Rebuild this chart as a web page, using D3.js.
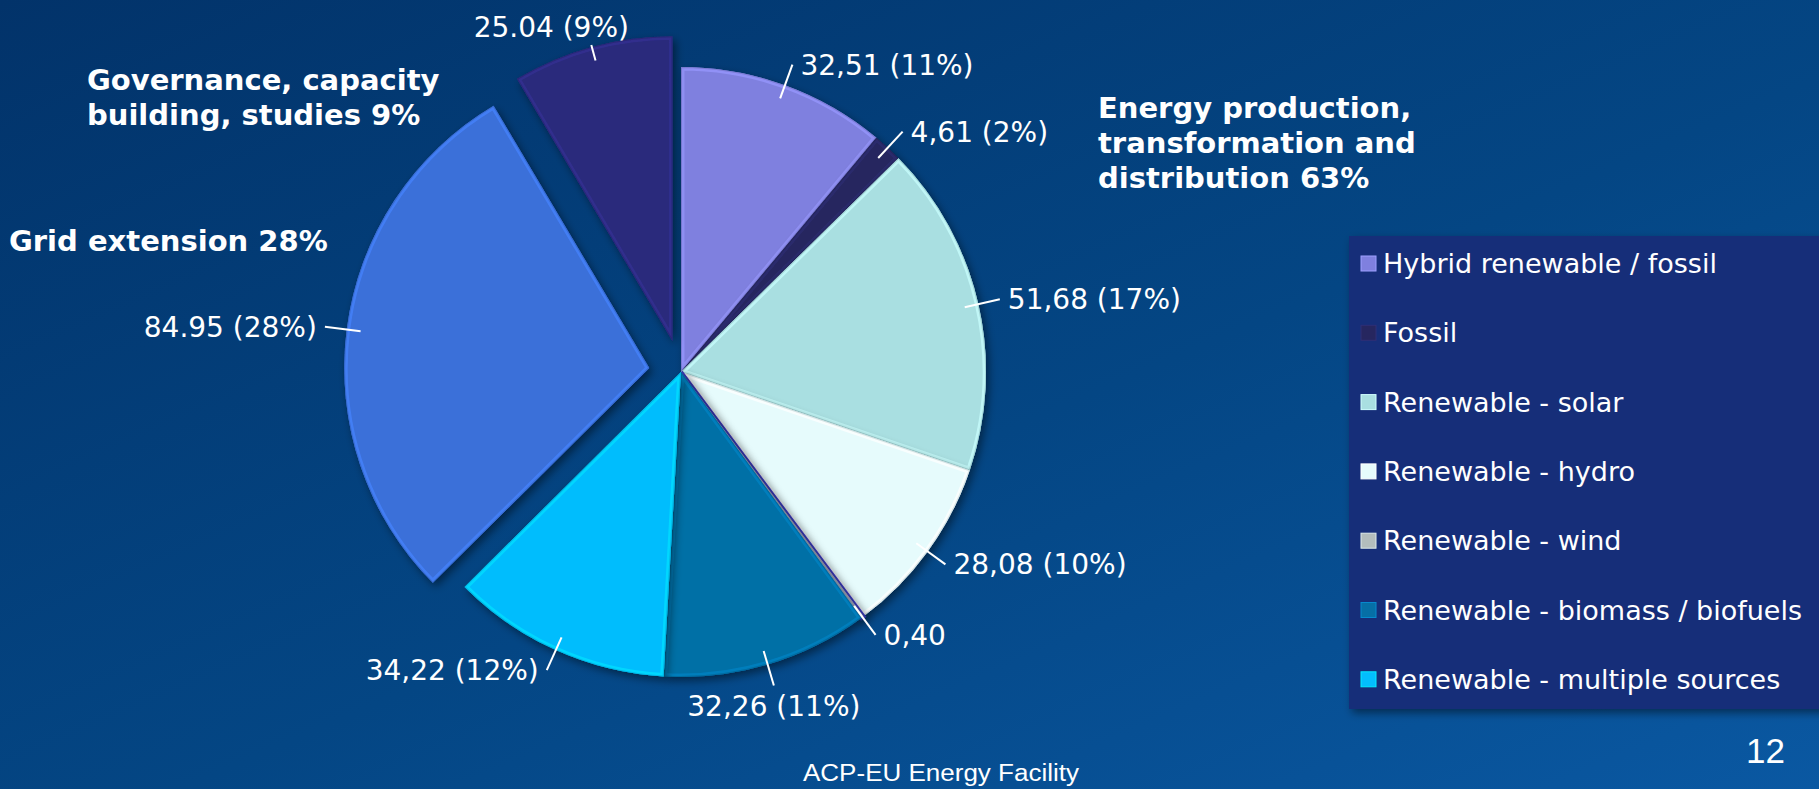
<!DOCTYPE html>
<html>
<head>
<meta charset="utf-8">
<script src="https://cdn.jsdelivr.net/npm/d3@7"></script>
<style>
  body { margin: 0; overflow: hidden; background: #03417c; }
</style>
</head>
<body>
<svg id="chart"></svg>
<script>
var categories = [
  "Hybrid renewable / fossil",
  "Fossil",
  "Renewable - solar",
  "Renewable - hydro",
  "Renewable - wind",
  "Renewable - biomass / biofuels",
  "Renewable - multiple sources",
  "Grid extension",
  "Governance, capacity building, studies"
];
var values = [32.51, 4.61, 51.68, 28.08, 0.40, 32.26, 34.22, 84.95, 25.04];
var valueLabels = ["32,51 (11%)", "4,61 (2%)", "51,68 (17%)", "28,08 (10%)", "0,40",
  "32,26 (11%)", "34,22 (12%)", "84.95 (28%)", "25.04 (9%)"];
var colors = ["#7f80df", "#26265f", "#a9dfe1", "#e6fbfc", "#b3bdbd",
  "#066fa6", "#03bdfd", "#3b6fd9", "#2b2a7c"];
var exploded = [false, false, false, false, false, false, false, true, true];
var legendCount = 7; // only the energy sub-types are in the legend

var energyTitle = ["Energy production,", "transformation and", "distribution 63%"];
var governanceTitle = ["Governance, capacity", "building, studies 9%"];
var gridTitle = ["Grid extension 28%"];

var W = 1819, H = 789;
var cx = 681, cy = 372, R = 305, pull = 32;

var svg = d3.select("#chart").attr("width", W).attr("height", H);
var defs = svg.append("defs");

var bg = defs.append("linearGradient").attr("id", "bg")
  .attr("x1", "0").attr("y1", "0").attr("x2", "1").attr("y2", "1");
bg.append("stop").attr("offset", "0%").attr("stop-color", "#02336a");
bg.append("stop").attr("offset", "55%").attr("stop-color", "#044684");
bg.append("stop").attr("offset", "100%").attr("stop-color", "#0a58a2");

var shadow = defs.append("filter").attr("id", "shadow")
  .attr("x", "-20%").attr("y", "-20%").attr("width", "140%").attr("height", "140%");
shadow.append("feDropShadow").attr("dx", 3).attr("dy", 4).attr("stdDeviation", 4)
  .attr("flood-color", "#000").attr("flood-opacity", 0.45);

svg.append("rect").attr("width", W).attr("height", H).attr("fill", "url(#bg)");

// pie
var pie = d3.pie().sort(null).value(d => d);
var arcs = pie(values);
var arc = d3.arc().innerRadius(0).outerRadius(R);

function mid(d) { return (d.startAngle + d.endAngle) / 2; }
function offset(d, i) { return exploded[i] ? pull : 0; }
function polar(a, r) { return [Math.sin(a) * r, -Math.cos(a) * r]; }

var g = svg.append("g").attr("transform", "translate(" + cx + "," + cy + ")");

var slices = g.selectAll(".slice")
  .data(arcs)
  .enter()
  .append("g")
  .attr("class", "slice")
  .attr("transform", function (d, i) {
    var p = polar(mid(d), offset(d, i));
    return "translate(" + p[0] + "," + p[1] + ")";
  })
  .attr("filter", "url(#shadow)");

slices.append("clipPath")
  .attr("id", (d, i) => "clip" + i)
  .append("path")
  .attr("d", arc);

slices.append("path")
  .attr("d", arc)
  .attr("fill", (d, i) => colors[i])
  .attr("stroke", (d, i) => (i === 4 ? "#3636ad" : "none"))
  .attr("stroke-width", 4);

// soft bevel: lighter rim on the inside, darker inner line
slices.append("path")
  .attr("d", arc)
  .attr("clip-path", (d, i) => "url(#clip" + i + ")")
  .attr("fill", "none")
  .attr("stroke", (d, i) => d3.color(colors[i]).brighter(0.5))
  .attr("stroke-opacity", 0.7)
  .attr("stroke-width", 7);
slices.append("path")
  .attr("d", arc)
  .attr("clip-path", (d, i) => "url(#clip" + i + ")")
  .attr("fill", "none")
  .attr("stroke", (d, i) => d3.color(colors[i]).darker(0.6))
  .attr("stroke-opacity", 0.5)
  .attr("stroke-width", 2);

// value labels with leader lines
function isTop(d) {
  return Math.abs(Math.sin(mid(d))) <= 0.3 && Math.cos(mid(d)) > 0;
}
function leaderEnd(d, i) {
  // at the very top there is little room, keep the line short
  var ext = isTop(d) ? 2 : 22;
  return polar(mid(d), R + offset(d, i) + ext);
}

var labels = g.selectAll(".lbl")
  .data(arcs)
  .enter()
  .append("g")
  .attr("class", "lbl");

labels.append("line")
  .attr("stroke", "#fff")
  .attr("stroke-width", 2)
  .each(function (d, i) {
    var p1 = polar(mid(d), R + offset(d, i) - 14);
    var p2 = leaderEnd(d, i);
    d3.select(this).attr("x1", p1[0]).attr("y1", p1[1]).attr("x2", p2[0]).attr("y2", p2[1]);
  });

labels.append("text")
  .attr("fill", "#fff")
  .style("font-family", "'DejaVu Sans', Verdana, sans-serif")
  .style("font-size", "28px")
  .text((d, i) => valueLabels[i])
  .each(function (d, i) {
    var a = mid(d);
    var p2 = leaderEnd(d, i);
    var s = Math.sin(a);
    var t = d3.select(this);
    if (s > 0.3) {
      t.attr("text-anchor", "start").attr("x", p2[0] + 8).attr("y", p2[1] + 10);
    } else if (s < -0.3) {
      t.attr("text-anchor", "end").attr("x", p2[0] - 8).attr("y", p2[1] + 10);
    } else if (isTop(d)) {
      t.attr("text-anchor", "middle").attr("x", p2[0] - 40).attr("y", p2[1] - 8);
    } else {
      t.attr("text-anchor", "middle").attr("x", p2[0]).attr("y", p2[1] + 30);
    }
  });

// group titles
function title(lines, x, y) {
  svg.append("text")
    .attr("x", x)
    .attr("y", y)
    .attr("fill", "#fff")
    .style("font-family", "'DejaVu Sans', Verdana, sans-serif")
    .style("font-weight", "bold")
    .style("font-size", "29px")
    .selectAll("tspan")
    .data(lines)
    .enter()
    .append("tspan")
    .attr("x", x)
    .attr("dy", (d, i) => (i === 0 ? 0 : 35))
    .text(d => d);
}
title(governanceTitle, 87, 90);
title(gridTitle, 9, 251);
title(energyTitle, 1098, 118);

// legend
var lg = svg.append("g").attr("transform", "translate(1349,236)");
lg.append("rect")
  .attr("width", 480)
  .attr("height", 473)
  .attr("fill", "#152f79")
  .attr("filter", "url(#shadow)");

var items = lg.selectAll(".item")
  .data(categories.slice(0, legendCount))
  .enter()
  .append("g")
  .attr("class", "item")
  .attr("transform", (d, i) => "translate(0," + (28 + i * 69.3) + ")");

items.append("rect")
  .attr("x", 12)
  .attr("y", -8)
  .attr("width", 15)
  .attr("height", 15)
  .attr("fill", (d, i) => colors[i])
  .attr("stroke", (d, i) => d3.color(colors[i]).brighter(0.6))
  .attr("stroke-width", 1);

items.append("text")
  .attr("x", 34)
  .attr("y", 9)
  .attr("fill", "#fff")
  .style("font-family", "'DejaVu Sans', Verdana, sans-serif")
  .style("font-size", "27px")
  .text(d => d);

// footer
svg.append("text")
  .attr("x", 941)
  .attr("y", 781)
  .attr("text-anchor", "middle")
  .attr("fill", "#fff")
  .attr("textLength", 276)
  .attr("lengthAdjust", "spacingAndGlyphs")
  .style("font-family", "'Liberation Sans', Arial, sans-serif")
  .style("font-size", "23px")
  .text("ACP-EU Energy Facility");

svg.append("text")
  .attr("x", 1785)
  .attr("y", 763)
  .attr("text-anchor", "end")
  .attr("fill", "#fff")
  .style("font-family", "'Liberation Sans', Arial, sans-serif")
  .style("font-size", "35px")
  .text("12");
</script>
</body>
</html>
